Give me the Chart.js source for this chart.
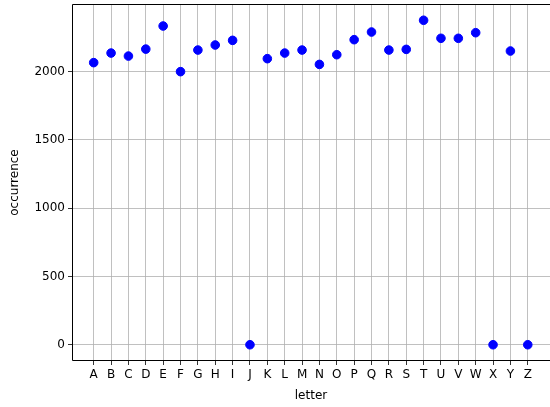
<!DOCTYPE html>
<html>
<head>
<meta charset="utf-8">
<script src="https://cdn.jsdelivr.net/npm/chart.js@4/dist/chart.umd.min.js"></script>
<style>
  html, body { margin: 0; padding: 0; background: #fff; }
  #wrap { width: 550px; height: 407px; }
</style>
</head>
<body>
<div id="wrap"><canvas id="chart" width="550" height="407"></canvas></div>
<script>
const letters = ['A','B','C','D','E','F','G','H','I','J','K','L','M','N','O','P','Q','R','S','T','U','V','W','X','Y','Z'];
const occurrences = [2064, 2134, 2112, 2163, 2332, 1998, 2156, 2193, 2227, 0, 2093, 2134, 2156,
                     2051, 2122, 2232, 2288, 2156, 2161, 2374, 2242, 2242, 2283, 0, 2149, 0];
const yTicks = [0, 500, 1000, 1500, 2000];

const FONT = { family: 'DejaVu Sans', size: 12 };

// black frame around the plot area (right side falls off the canvas in the original)
const frame = {
    id: 'frame',
    afterDraw(chart) {
        const { ctx, chartArea: a } = chart;
        ctx.save();
        ctx.strokeStyle = '#000';
        ctx.lineWidth = 1;
        ctx.beginPath();
        ctx.moveTo(a.right + 2, a.top + 0.5);
        ctx.lineTo(a.left + 0.5, a.top + 0.5);
        ctx.lineTo(a.left + 0.5, a.bottom - 0.5);
        ctx.lineTo(a.right + 2, a.bottom - 0.5);
        ctx.stroke();
        ctx.restore();
    }
};

const ctx = document.getElementById('chart');
new Chart(ctx, {
    type: 'scatter',
    data: {
        datasets: [{
            label: 'occurrence',
            data: occurrences.map((v, i) => ({ x: i, y: v })),
            backgroundColor: '#0000ff',
            borderColor: '#0000ff',
            pointRadius: 4.3,
            pointHoverRadius: 4.3
        }]
    },
    options: {
        responsive: false,
        animation: false,
        layout: { autoPadding: false, padding: { top: 4, right: 0, left: 0, bottom: 0 } },
        plugins: { legend: { display: false }, tooltip: { enabled: false } },
        scales: {
            x: {
                type: 'linear',
                min: -1.25,
                max: 26.28,
                afterBuildTicks: axis => {
                    axis.ticks = letters.map((l, i) => ({ value: i }));
                },
                afterFit: axis => {
                    axis.height = 46;
                    axis.paddingLeft = 0;
                    axis.paddingRight = 0;
                },
                ticks: {
                    color: '#000',
                    font: FONT,
                    padding: 3,
                    maxRotation: 0,
                    autoSkip: false,
                    callback: v => letters[v]
                },
                grid: { color: '#b0b0b0', lineWidth: 0.8, tickColor: '#000', tickLength: 4 },
                border: { display: false },
                title: { display: true, text: 'letter', color: '#000', font: FONT, padding: { top: 0 } }
            },
            y: {
                min: -119,
                max: 2493,
                afterBuildTicks: axis => {
                    axis.ticks = yTicks.map(v => ({ value: v }));
                },
                afterFit: axis => {
                    axis.width = 72;
                    axis.paddingTop = 0;
                    axis.paddingBottom = 0;
                },
                ticks: { color: '#000', font: FONT, padding: 3, callback: v => String(v) },
                grid: { color: '#b0b0b0', lineWidth: 0.8, tickColor: '#000', tickLength: 4 },
                border: { display: false },
                title: { display: true, text: 'occurrence', color: '#000', font: FONT, padding: { top: 8, bottom: 2 } }
            }
        }
    },
    plugins: [frame]
});
</script>
</body>
</html>
